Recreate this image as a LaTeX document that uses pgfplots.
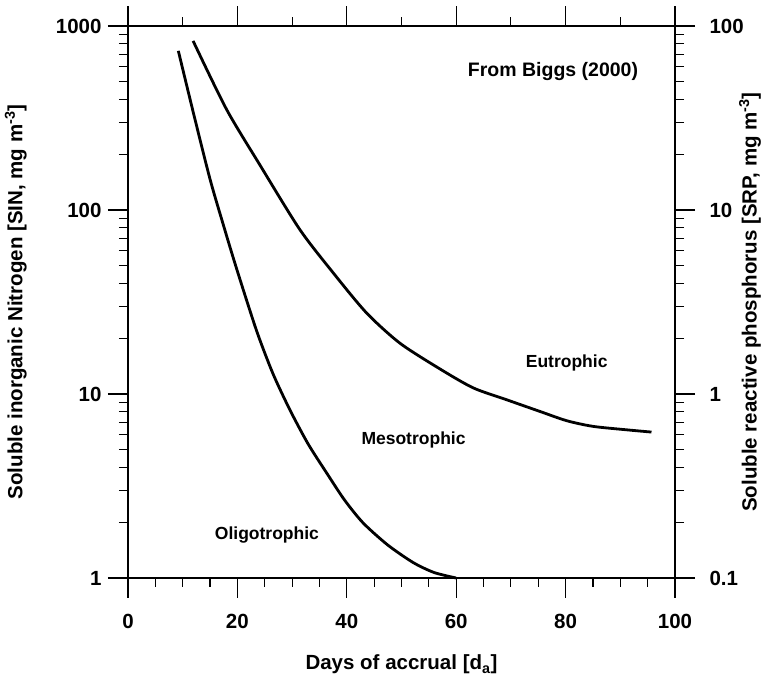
\documentclass[border=0pt]{standalone}
\usepackage{fontspec}
\setmainfont{Liberation Sans}
\usepackage{pgfplots}
\pgfplotsset{compat=1.18}
\begin{document}
\fontsize{19}{22}\selectfont
\begin{tikzpicture}
\begin{axis}[name=main,
  width=547pt, height=552pt, scale only axis,
  xmin=0, xmax=100, ymode=log,
  tick align=outside, major tick length=20pt, minor tick length=9pt,
  /pgf/number format/assume math mode=true,
  ticklabel style={font=\bfseries\fontsize{20.5}{24}\selectfont},
  label style={font=\bfseries\fontsize{20.5}{24}\selectfont},
  axis line style={line width=1.1pt, black},
  tick style={line width=1.1pt, black},
  clip=false,
  ymin=1, ymax=1000,
  axis x line*=bottom, axis y line*=left,
  xtick={0,20,...,100}, minor x tick num=3,
  xticklabel style={yshift=-10pt},
  ytick={1,10,100,1000}, yticklabels={1,10,100,1000},
  xlabel={Days of accrual [d\textsubscript{a}]},
  ylabel={Soluble inorganic Nitrogen [SIN, mg m\textsuperscript{-3}]},
  xlabel style={at={(axis description cs:0.5,-0.157)}, anchor=center},
  ylabel style={at={(axis description cs:-0.205,0.5)}, anchor=center},
]
\addplot[black, line width=2.8pt, smooth, tension=0.45] coordinates {
(9.2,733) (12.0,333) (15.0,147) (17.5,81.7) (19.9,47.5) (23.5,22.1)
(26.5,12.9) (29.6,8.2) (32.9,5.37) (36.3,3.73) (39.6,2.65)
(43.0,1.99) (47.5,1.51) (52.2,1.21) (56.0,1.07) (60.0,1.0)
};
\addplot[black, line width=2.8pt, smooth, tension=0.45] coordinates {
(11.9,830) (18.0,353) (24.1,176) (31.4,78.4) (37.5,45.6) (43.6,27.6)
(49.7,18.9) (57.0,13.7) (63.1,10.8) (69.2,9.31) (75.3,8.04) (80.2,7.16)
(85.0,6.67) (91.1,6.39) (95.7,6.21)
};
\node[font=\bfseries\fontsize{19.5}{22}\selectfont] at (axis cs:77.7,568) {From Biggs (2000)};
\node[font=\bfseries\fontsize{17.5}{20}\selectfont] at (axis cs:80.2,14.7) {Eutrophic};
\node[font=\bfseries\fontsize{17.5}{20}\selectfont] at (axis cs:52.2,5.64) {Mesotrophic};
\node[font=\bfseries\fontsize{17.5}{20}\selectfont] at (axis cs:25.4,1.71) {Oligotrophic};
\end{axis}
\begin{axis}[
  width=547pt, height=552pt, scale only axis,
  xmin=0, xmax=100, ymode=log,
  tick align=outside, major tick length=20pt, minor tick length=9pt,
  /pgf/number format/assume math mode=true,
  ticklabel style={font=\bfseries\fontsize{20.5}{24}\selectfont},
  label style={font=\bfseries\fontsize{20.5}{24}\selectfont},
  axis line style={line width=1.1pt, black},
  tick style={line width=1.1pt, black},
  clip=false,
  ymin=0.1, ymax=100,
  axis x line*=top, axis y line*=right,
  xtick={0,20,...,100}, minor x tick num=1, xticklabels={},
  ytick={0.1,1,10,100}, yticklabels={0.1,1,10,100},
  yticklabel style={xshift=8pt},
  ylabel={Soluble reactive phosphorus [SRP, mg m\textsuperscript{-3}]},
  ylabel style={at={(axis description cs:1.137,0.5)}, anchor=center},
]
\end{axis}
\pgfresetboundingbox
\path[use as bounding box] ([shift={(-128pt,-101pt)}]main.south west) rectangle ([shift={(91pt,26pt)}]main.north east);
\end{tikzpicture}
\end{document}
